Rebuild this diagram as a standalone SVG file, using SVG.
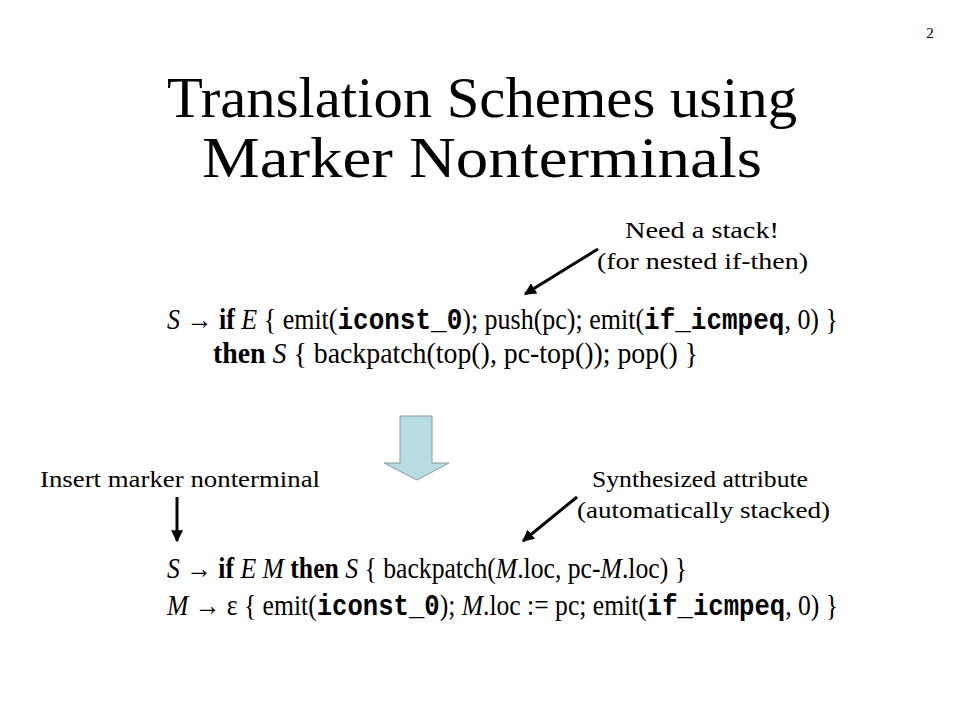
<svg xmlns="http://www.w3.org/2000/svg" width="960" height="720" viewBox="0 0 960 720">
<defs>
<style>
.t{font-family:"Liberation Serif","Times New Roman",serif;fill:#000}
.title{font-size:56px}
.body{font-size:29px}
.lab{font-size:23px}
.m{font-family:"Liberation Mono","Courier New",monospace;font-weight:bold}
.b{font-weight:bold}
.i{font-style:italic}
.ln{stroke:#000;stroke-width:3;fill:none}
</style>
<marker id="ah" viewBox="0 0 10 10" refX="9" refY="5" markerWidth="4" markerHeight="4" orient="auto" markerUnits="strokeWidth">
<path d="M0,0 L10,5 L0,10 z" fill="#000"/>
</marker>
</defs>
<rect width="960" height="720" fill="#fff"/>
<text class="t" x="930" y="38" font-size="15" text-anchor="middle">2</text>
<g id="title">
<text class="t title" x="482" y="117" text-anchor="middle" textLength="630" lengthAdjust="spacingAndGlyphs">Translation Schemes using</text>
<text class="t title" x="482" y="177" text-anchor="middle" textLength="560" lengthAdjust="spacingAndGlyphs">Marker Nonterminals</text>
</g>
<g id="rule1">
<text class="t body" x="167" y="329" textLength="671" lengthAdjust="spacingAndGlyphs"><tspan class="i">S</tspan> → <tspan class="b">if</tspan> <tspan class="i">E</tspan> { emit(<tspan class="m">iconst_0</tspan>); push(pc); emit(<tspan class="m">if_icmpeq</tspan>, 0) }</text>
<text class="t body" x="213" y="363" textLength="485" lengthAdjust="spacingAndGlyphs"><tspan class="b">then</tspan> <tspan class="i">S</tspan> { backpatch(top(), pc-top()); pop() }</text>
</g>
<g id="rule2">
<text class="t body" x="167" y="578" textLength="520" lengthAdjust="spacingAndGlyphs"><tspan class="i">S</tspan> → <tspan class="b">if</tspan> <tspan class="i">E M</tspan> <tspan class="b">then</tspan> <tspan class="i">S</tspan> { backpatch(<tspan class="i">M</tspan>.loc, pc-<tspan class="i">M</tspan>.loc) }</text>
<text class="t body" x="167" y="615" textLength="671" lengthAdjust="spacingAndGlyphs"><tspan class="i">M</tspan> → ε { emit(<tspan class="m">iconst_0</tspan>); <tspan class="i">M</tspan>.loc := pc; emit(<tspan class="m">if_icmpeq</tspan>, 0) }</text>
</g>
<g id="note-stack">
<text class="t lab" x="625" y="238" textLength="154" lengthAdjust="spacingAndGlyphs">Need a stack!</text>
<text class="t lab" x="597" y="269" textLength="211" lengthAdjust="spacingAndGlyphs">(for nested if-then)</text>
</g>
<g id="note-insert">
<text class="t lab" x="40" y="487" textLength="280" lengthAdjust="spacingAndGlyphs">Insert marker nonterminal</text>
</g>
<g id="note-synth">
<text class="t lab" x="592" y="487" textLength="216" lengthAdjust="spacingAndGlyphs">Synthesized attribute</text>
<text class="t lab" x="577" y="518" textLength="253" lengthAdjust="spacingAndGlyphs">(automatically stacked)</text>
</g>
<g id="block-arrow">
<path d="M400,416 L432,416 L432,463 L449,463 L417,480 L384,463 L400,463 Z" fill="#b7dde2" stroke="#8a9a9c" stroke-width="1"/>
</g>
<g id="connectors">
<line class="ln" x1="598" y1="249" x2="525" y2="294" marker-end="url(#ah)"/>
<line class="ln" x1="177" y1="497" x2="177" y2="541" marker-end="url(#ah)"/>
<line class="ln" x1="577" y1="497" x2="523" y2="541" marker-end="url(#ah)"/>
</g>
</svg>
